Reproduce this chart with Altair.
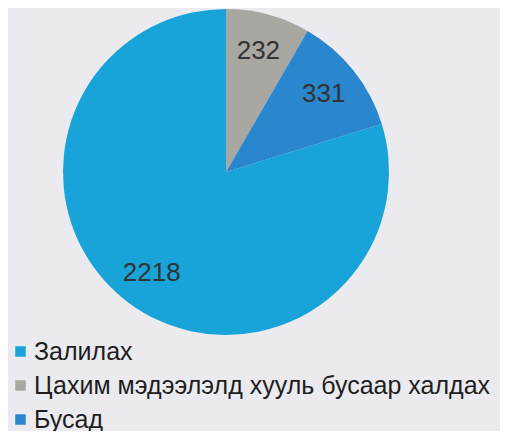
import altair as alt
import pandas as pd

categories = ["Залилах", "Цахим мэдээлэлд хууль бусаар халдах", "Бусад"]
values = [2218, 232, 331]
slice_order = [3, 1, 2]  # drawing order clockwise from 12 o'clock
colors = ["#18a4d8", "#a9a7a2", "#2a86cd"]

df = pd.DataFrame({"cat": categories, "val": values, "ord": slice_order})

base = alt.Chart(df).encode(
    theta=alt.Theta("val:Q", stack=True),
    order=alt.Order("ord:Q", sort="ascending"),
    x=alt.value(218),
    y=alt.value(164),
)

arcs = base.mark_arc(outerRadius=163).encode(
    color=alt.Color(
        "cat:N",
        scale=alt.Scale(domain=categories, range=colors),
        sort=categories,
        legend=alt.Legend(
            title=None,
            orient="none",
            legendX=0,
            legendY=331,
            symbolType="square",
            symbolSize=110,
            symbolStrokeWidth=0,
            labelFontSize=25,
            labelFont="Liberation Sans",
            labelColor="#1e1e1e",
            labelLimit=600,
            rowPadding=8,
            padding=0,
            symbolOffset=0,
            labelOffset=1,
        ),
    )
)

labels = base.mark_text(
    radius=125, fontSize=26, font="Liberation Sans", color="#333333"
).encode(text="val:Q")

chart = (
    (arcs + labels)
    .properties(
        width=492,
        height=423,
        padding=0,
        background="#ebebef",
        autosize=alt.AutoSizeParams(type="none"),
    )
    .configure_view(stroke=None)
)

chart.save("out.html", embed_options={"renderer": "svg", "actions": False})
